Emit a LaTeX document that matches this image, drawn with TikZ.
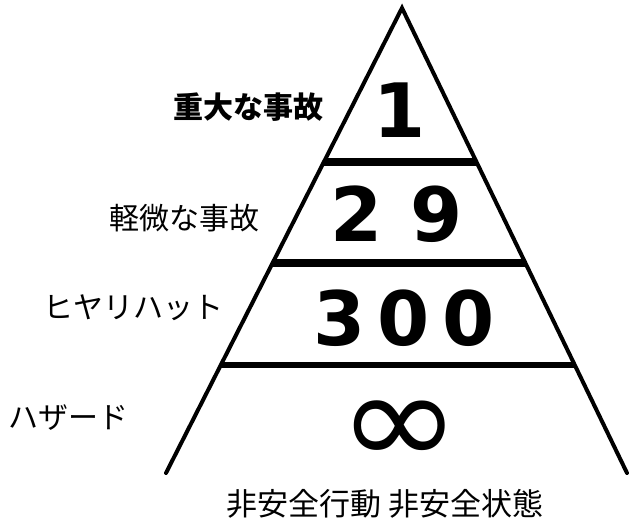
\documentclass[tikz,border=0pt]{standalone}
\usepackage{fontspec}
\usepackage{graphicx}
\newfontfamily\cjk{Noto Sans CJK JP}
\newfontfamily\numfont{DejaVu Sans}
\tikzset{
  side/.style={line width=4pt, line cap=round},
  sep/.style={line width=8pt},
  lbl/.style={font=\cjk\fontsize{30}{30}\selectfont, inner sep=0pt},
  num/.style={font=\numfont\bfseries\fontsize{75}{75}\selectfont, inner sep=0pt},
}
\begin{document}
\begin{tikzpicture}[x=1pt,y=-1pt]
\useasboundingbox (0,0) rectangle (637,520);
\coordinate (apex) at (402,8);
\coordinate (bl) at (166,473);
\coordinate (br) at (627,473);
\draw[side, line join=miter] (bl) -- (apex) -- (br);
% separators
\path (apex) -- (bl) coordinate[pos=0.3312] (l1) coordinate[pos=0.5484] (l2) coordinate[pos=0.7677] (l3);
\path (apex) -- (br) coordinate[pos=0.3312] (r1) coordinate[pos=0.5484] (r2) coordinate[pos=0.7677] (r3);
\draw[sep] (l1) -- (r1);
\draw[sep] (l2) -- (r2);
\draw[line width=5.5pt] (l3) -- (r3);
% numbers
\node[num] (n1) at (400,110) {1};
\node[num] (n2) at (397,214) {\spaceskip=28pt 2 9};
\node[num] (n3) at (404,318) {\spaceskip=12pt 3 0 0};
\node[inner sep=0pt, font=\numfont\fontsize{140}{140}\selectfont] (n4) at (400,433) {\scalebox{1.05}[0.95]{∞}};
% labels
\node[lbl, font=\cjk\bfseries\fontsize{30}{30}\selectfont, anchor=east] (t1) at (324,107) {重大な事故};
\node[lbl, anchor=east] (t2) at (260,218) {軽微な事故};
\node[lbl, anchor=east] (t3) at (224,308) {ヒヤリハット};
\node[lbl, anchor=west] (t4) at (8,418) {ハザード};
\node[lbl, font=\cjk\fontsize{31}{31}\selectfont] (t5) at (385,504) {非安全行動 非安全状態};
\end{tikzpicture}
\end{document}
